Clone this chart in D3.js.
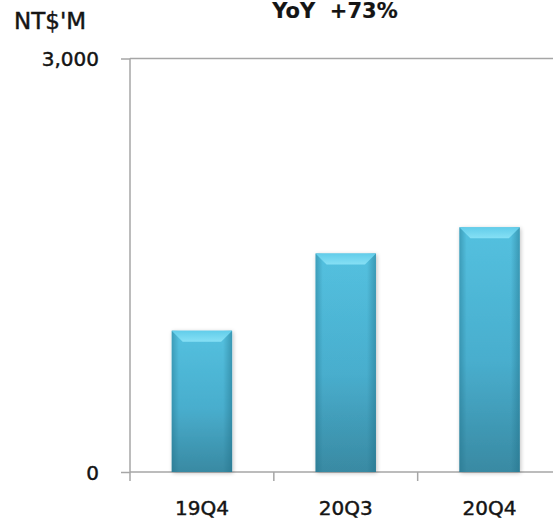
<!DOCTYPE html>
<html>
<head>
<meta charset="utf-8">
<script src="https://cdn.jsdelivr.net/npm/d3@7"></script>
<style>
  html, body { margin: 0; padding: 0; background: #fff; }
  svg { display: block; }
  text { font-family: "DejaVu Sans", Verdana, sans-serif; fill: #141414; stroke: #141414; stroke-width: 0.45px; }
</style>
</head>
<body>
<div id="chart"></div>
<script>
// data
const quarters = ["19Q4", "20Q3", "20Q4"];
const revenue = [1025, 1585, 1775];   // NT$'M
const yTicks = [0, 3000];
const unitLabel = "NT$'M";
const titleText = "YoY  +73%";

const width = 553, height = 523;
const margin = { top: 58.5, right: -8.5, bottom: 51, left: 130 };
const innerW = width - margin.left - margin.right;
const innerH = height - margin.top - margin.bottom;

const svg = d3.select("#chart").append("svg")
    .attr("width", width).attr("height", height);

const defs = svg.append("defs");

// bar body: light on top, darker at the foot
const gBody = defs.append("linearGradient").attr("id", "barBody")
    .attr("x1", 0).attr("y1", 0).attr("x2", 0).attr("y2", 1);
gBody.append("stop").attr("offset", "0%").attr("stop-color", "#56c5e4");
gBody.append("stop").attr("offset", "55%").attr("stop-color", "#4bb1d1");
gBody.append("stop").attr("offset", "100%").attr("stop-color", "#3a8ba4");

// darker sides
const gSide = defs.append("linearGradient").attr("id", "barSide")
    .attr("x1", 0).attr("y1", 0).attr("x2", 1).attr("y2", 0);
gSide.append("stop").attr("offset", "0%").attr("stop-color", "#1f6e86").attr("stop-opacity", 0.45);
gSide.append("stop").attr("offset", "12%").attr("stop-color", "#1f6e86").attr("stop-opacity", 0.05);
gSide.append("stop").attr("offset", "85%").attr("stop-color", "#1f6e86").attr("stop-opacity", 0.05);
gSide.append("stop").attr("offset", "100%").attr("stop-color", "#1f6e86").attr("stop-opacity", 0.5);

// top bevel
const gTop = defs.append("linearGradient").attr("id", "barTop")
    .attr("x1", 0).attr("y1", 0).attr("x2", 0).attr("y2", 1);
gTop.append("stop").attr("offset", "0%").attr("stop-color", "#62cdea");
gTop.append("stop").attr("offset", "100%").attr("stop-color", "#86e0f5");

const shadow = defs.append("filter").attr("id", "shadow")
    .attr("x", "-20%").attr("y", "-5%").attr("width", "140%").attr("height", "110%");
shadow.append("feGaussianBlur").attr("in", "SourceAlpha").attr("stdDeviation", 2);
shadow.append("feOffset").attr("dx", 1).attr("dy", 1).attr("result", "b");
shadow.append("feComponentTransfer").append("feFuncA").attr("type", "linear").attr("slope", 0.25);
const merge = shadow.append("feMerge");
merge.append("feMergeNode");
merge.append("feMergeNode").attr("in", "SourceGraphic");

const g = svg.append("g").attr("transform", `translate(${margin.left},${margin.top})`);

const x = d3.scaleBand().domain(quarters).range([0, innerW])
    .paddingInner(0.58).paddingOuter(0.29);
const y = d3.scaleLinear().domain([0, 3000]).range([innerH, 0]);

const axisColor = "#a6a6a6";

// top gridline at 3,000
g.append("line")
    .attr("x1", 0).attr("x2", innerW)
    .attr("y1", y(3000)).attr("y2", y(3000))
    .attr("stroke", axisColor).attr("stroke-width", 1.5);

// y axis
const yAxisG = g.append("g")
    .call(d3.axisLeft(y).tickValues(yTicks).tickSize(9).tickPadding(22)
        .tickFormat(d3.format(",")));
yAxisG.select(".domain").remove();
yAxisG.selectAll(".tick line").attr("stroke", axisColor).attr("stroke-width", 1.5);
yAxisG.selectAll(".tick text").style("font-size", "20px").attr("fill", "#141414").attr("dy", "0.36em");
g.append("line")
    .attr("x1", 0).attr("x2", 0).attr("y1", 0).attr("y2", innerH + 9)
    .attr("stroke", axisColor).attr("stroke-width", 1.5);

// x axis baseline with ticks between categories
g.append("line")
    .attr("x1", 0).attr("x2", innerW).attr("y1", innerH).attr("y2", innerH)
    .attr("stroke", axisColor).attr("stroke-width", 1.5);
const step = x.step();
const bounds = quarters.slice(1).map(q => x(q) - (step - x.bandwidth()) / 2);
g.selectAll(".xtick").data(bounds).join("line")
    .attr("class", "xtick")
    .attr("x1", d => d).attr("x2", d => d)
    .attr("y1", innerH).attr("y2", innerH + 9)
    .attr("stroke", axisColor).attr("stroke-width", 1.5);

g.selectAll(".xlabel").data(quarters).join("text")
    .attr("class", "xlabel")
    .attr("x", d => x(d) + x.bandwidth() / 2)
    .attr("y", innerH + 43)
    .attr("text-anchor", "middle")
    .style("font-size", "20px")
    .text(d => d);

// bars
const bars = g.selectAll(".bar").data(quarters.map((q, i) => ({ q, v: revenue[i] })))
    .join("g").attr("class", "bar");

bars.append("rect")
    .attr("x", d => x(d.q)).attr("y", d => y(d.v))
    .attr("width", x.bandwidth()).attr("height", d => y(0) - y(d.v))
    .attr("fill", "url(#barBody)")
    .attr("filter", "url(#shadow)");

bars.append("rect")
    .attr("x", d => x(d.q)).attr("y", d => y(d.v))
    .attr("width", x.bandwidth()).attr("height", d => y(0) - y(d.v))
    .attr("fill", "url(#barSide)");

// bevelled top
const bev = 11;
bars.append("polygon")
    .attr("points", d => {
        const x0 = x(d.q), x1 = x0 + x.bandwidth(), y0 = y(d.v);
        return [[x0, y0], [x1, y0], [x1 - bev, y0 + bev], [x0 + bev, y0 + bev]].join(" ");
    })
    .attr("fill", "url(#barTop)");

// unit label and title
svg.append("text")
    .attr("x", 14).attr("y", 29)
    .style("font-size", "23px")
    .text(unitLabel);

svg.append("text")
    .attr("x", 335).attr("y", 18)
    .attr("text-anchor", "middle")
    .style("font-size", "21px").style("font-weight", "bold")
    .style("stroke-width", "0.2px")
    .style("white-space", "pre")
    .text(titleText);
</script>
</body>
</html>
